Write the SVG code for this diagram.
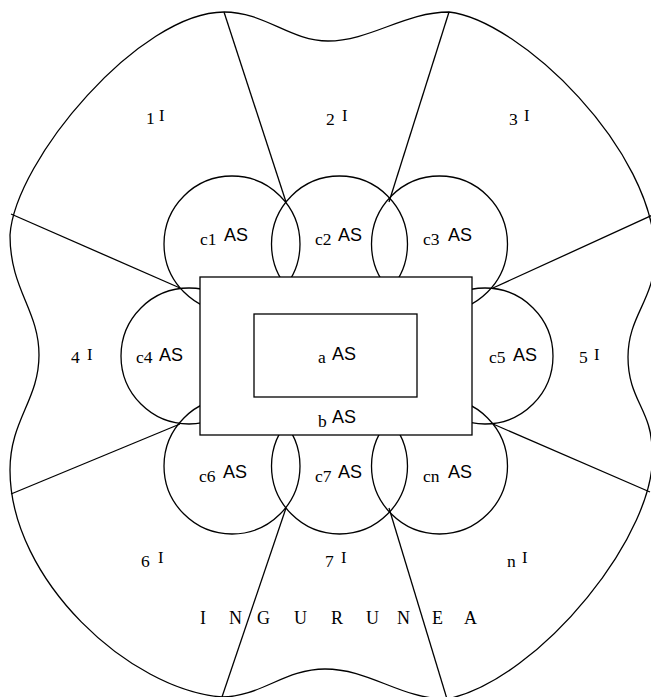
<svg xmlns="http://www.w3.org/2000/svg" width="651" height="697" viewBox="0 0 651 697">
<style>
.ln{fill:none;stroke:#000;stroke-width:1.3}
.cir{fill:none;stroke:#000;stroke-width:1.3}
.box{fill:#fff;stroke:#000;stroke-width:1.3}
.t{font-family:"Liberation Serif","Times New Roman",serif;font-size:17.5px;fill:#000}
.s{font-family:"Liberation Sans",Arial,sans-serif;font-size:18px;fill:#000}
.i{font-family:"Liberation Serif","Times New Roman",serif;font-size:16.5px;fill:#000}
.w{font-family:"Liberation Serif","Times New Roman",serif;font-size:18px;fill:#000}
</style>
<rect width="651" height="697" fill="#fff"/>
<g id="outer">
<path class="ln" d="M224,12 C265,12 290,41 328,41 C370,41 405,12 449,12 C520,20 655,150 655,255 C655,300 628,315 628,357 C628,400 652,410 652,450 C660,530 540,680 447,699 C400,699 370,669 325,669 C285,669 260,697 222,697 C130,690 10,580 10,470 C10,420 39,400 39,355 C39,310 10,290 10,235 C15,160 140,12 224,12 Z"/>
</g>
<g id="connectors">
<line class="ln" x1="286" y1="202" x2="224" y2="12"/>
<line class="ln" x1="389" y1="202" x2="449" y2="12"/>
<line class="ln" x1="180" y1="288" x2="11" y2="214"/>
<line class="ln" x1="493" y1="288" x2="655" y2="214"/>
<line class="ln" x1="180" y1="424" x2="11" y2="494"/>
<line class="ln" x1="493" y1="424" x2="650" y2="492"/>
<line class="ln" x1="286" y1="508" x2="222" y2="697"/>
<line class="ln" x1="389" y1="508" x2="447" y2="699"/>
</g>
<g id="c1"><circle class="cir" cx="232" cy="244" r="68"/></g>
<g id="c2"><circle class="cir" cx="339.5" cy="244" r="68"/></g>
<g id="c3"><circle class="cir" cx="439.5" cy="244" r="68"/></g>
<g id="c4"><circle class="cir" cx="189" cy="356" r="68"/></g>
<g id="c5"><circle class="cir" cx="485" cy="356" r="68"/></g>
<g id="c6"><circle class="cir" cx="232" cy="466" r="68"/></g>
<g id="c7"><circle class="cir" cx="339.5" cy="466" r="68"/></g>
<g id="cn"><circle class="cir" cx="439.5" cy="466" r="68"/></g>
<g id="b"><rect class="box" x="200" y="277" width="272" height="158"/></g>
<g id="a"><rect class="box" x="254" y="314" width="163" height="83"/></g>
<g id="labels">
<text class="t" x="200" y="245">c1</text><text class="s" x="224" y="241">AS</text>
<text class="t" x="315" y="245">c2</text><text class="s" x="338" y="241">AS</text>
<text class="t" x="423" y="245">c3</text><text class="s" x="448" y="241">AS</text>
<text class="t" x="136" y="363">c4</text><text class="s" x="159" y="361">AS</text>
<text class="t" x="489" y="363">c5</text><text class="s" x="513" y="361">AS</text>
<text class="t" x="318" y="363">a</text><text class="s" x="332" y="360">AS</text>
<text class="t" x="318" y="427">b</text><text class="s" x="332" y="423">AS</text>
<text class="t" x="199" y="482">c6</text><text class="s" x="223" y="478">AS</text>
<text class="t" x="315" y="482">c7</text><text class="s" x="338" y="478">AS</text>
<text class="t" x="423" y="482">cn</text><text class="s" x="448" y="478">AS</text>
<text class="t" x="146" y="124">1</text><text class="i" x="159" y="121">I</text>
<text class="t" x="326" y="125">2</text><text class="i" x="342" y="121">I</text>
<text class="t" x="509" y="125">3</text><text class="i" x="524" y="121">I</text>
<text class="t" x="71" y="363">4</text><text class="i" x="87" y="360">I</text>
<text class="t" x="579" y="363">5</text><text class="i" x="594" y="360">I</text>
<text class="t" x="141" y="567">6</text><text class="i" x="158" y="563">I</text>
<text class="t" x="325" y="567">7</text><text class="i" x="341" y="563">I</text>
<text class="t" x="507" y="567">n</text><text class="i" x="522" y="563">I</text>
<text class="w" x="200 229 257 294 331 366 397 432 464" y="624">INGURUNEA</text>
</g>
</svg>
